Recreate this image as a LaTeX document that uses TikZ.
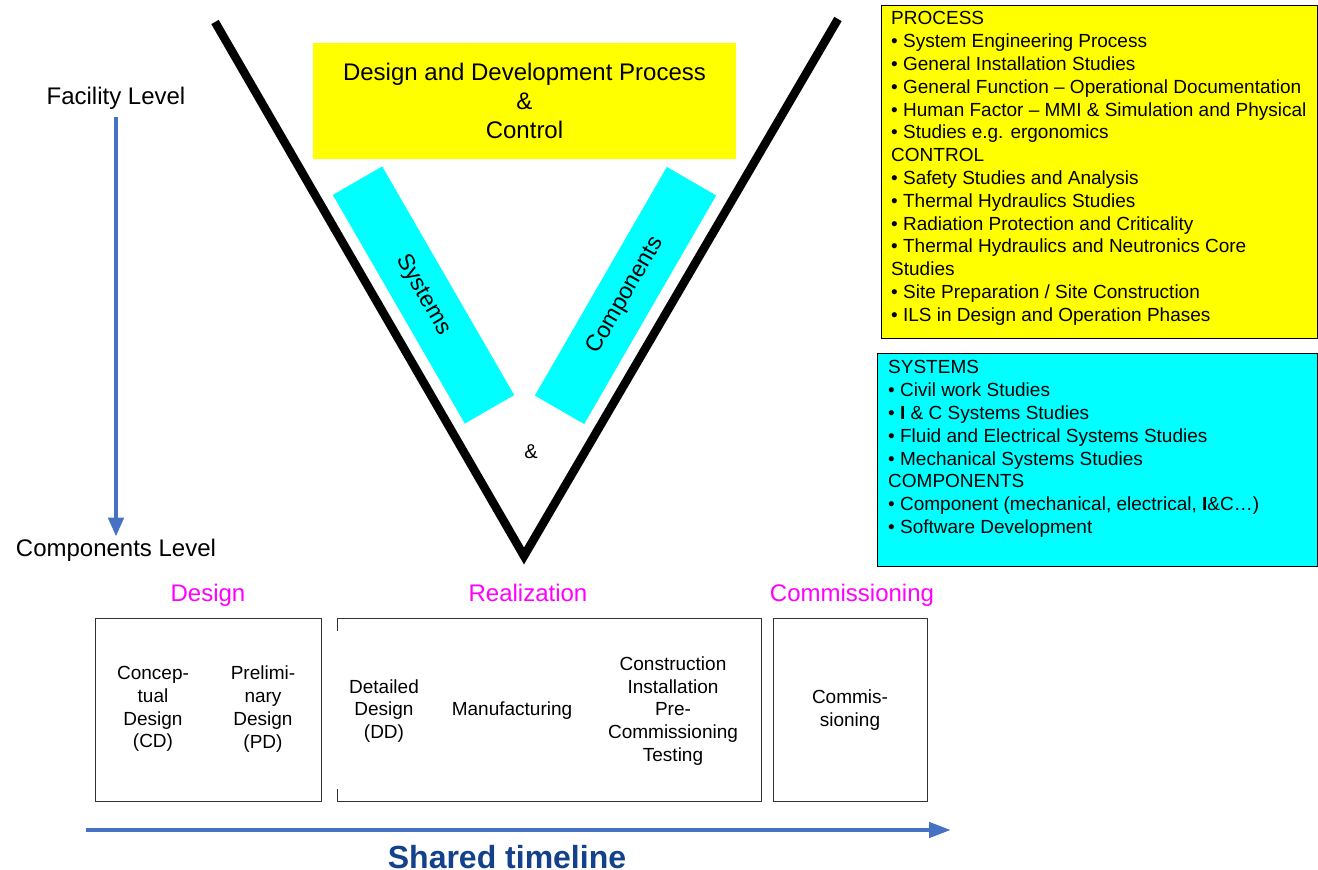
\documentclass[tikz,border=0pt]{standalone}
\usepackage{fontspec}
\setmainfont{Liberation Sans}
\usetikzlibrary{arrows.meta}
\definecolor{lineblue}{RGB}{70,114,196}
\definecolor{titleblue}{RGB}{20,65,140}
\definecolor{vyellow}{RGB}{255,255,0}
\definecolor{vcyan}{RGB}{0,255,255}
\definecolor{vmagenta}{RGB}{255,0,255}
\begin{document}
\begin{tikzpicture}[x=1pt,y=-1pt,
    txt/.style={font=\fontsize{19}{22.8}\selectfont, inner sep=0pt},
    big/.style={font=\fontsize{24}{29}\selectfont, inner sep=2pt},
    phase/.style={big, text=vmagenta, anchor=base},
    box/.style={draw=black!80, line width=0.8pt, minimum height=183pt, inner sep=0pt},
    band/.style={fill=vcyan, minimum width=264pt, minimum height=57pt, font=\fontsize{23}{27}\selectfont},
    blue arrow/.style={draw=lineblue, line width=4.5pt}]
  \useasboundingbox (0,0) rectangle (1318,870);

  % the V
  \draw[line width=8.5pt] (215,22) -- (524,556) -- (838,19);

  \node[big, fill=vyellow, minimum width=423pt, minimum height=116pt, align=center] (ddp) at (524.5,101) {Design and Development Process\\\&\\Control};
  \node[band, rotate=-60] (systems) at (423.5,295) {Systems};
  \node[band, rotate=60] (components) at (625.5,295.5) {Components};
  \node[font=\fontsize{20}{24}\selectfont] (amp) at (531,452) {\&};

  % levels
  \node[big] (facility) at (116,98) {Facility Level};
  \node[big] (complevel) at (116,550) {Components Level};
  \draw[blue arrow, shorten <=6pt, -{Triangle[length=19pt,width=15pt]}] (facility.south) -- (complevel.north);

  % right hand boxes
  \draw[line width=0.8pt, fill=vyellow] (881,5) rectangle (1317,338);
  \node[txt, anchor=north west, align=left] (process) at (891,11.5) {PROCESS\\
    • System Engineering Process\\
    • General Installation Studies\\
    • General Function – Operational Documentation\\
    • Human Factor – MMI \& Simulation and Physical\\
    • Studies e.g. ergonomics\\
    CONTROL\\
    • Safety Studies and Analysis\\
    • Thermal Hydraulics Studies\\
    • Radiation Protection and Criticality\\
    • Thermal Hydraulics and Neutronics Core\\
    Studies\\
    • Site Preparation / Site Construction\\
    • ILS in Design and Operation Phases};

  \draw[line width=0.8pt, fill=vcyan] (877,353) rectangle (1317,566);
  \node[txt, anchor=north west, align=left] (sys) at (888,360.5) {SYSTEMS\\
    • Civil work Studies\\
    • \textbf{I} \& C Systems Studies\\
    • Fluid and Electrical Systems Studies\\
    • Mechanical Systems Studies\\
    COMPONENTS\\
    • Component (mechanical, electrical, \textbf{I}\&C…)\\
    • Software Development};

  % phases
  \node[phase] (design) at (208,601) {Design};
  \node[phase] (realization) at (528,601) {Realization};
  \node[phase] (commissioning) at (852,601) {Commissioning};

  \node[box, minimum width=226pt, anchor=north west] (designbox) at (95,618) {};
  \node[box, draw=none, minimum width=424pt, anchor=north west] (realbox) at (337,618) {};
  \draw[draw=black!80, line width=0.8pt] ([yshift=-13pt]realbox.north west) -- (realbox.north west) -- (realbox.north east)
    -- (realbox.south east) -- (realbox.south west) -- ([yshift=13pt]realbox.south west);
  \node[box, minimum width=154pt, anchor=north west] (commbox) at (773,618) {};

  \node[txt, align=center] (cd) at (153,709) {Concep-\\tual\\Design\\(CD)};
  \node[txt, align=center] (pd) at (263,709) {Prelimi-\\nary\\Design\\(PD)};
  \node[txt, align=center] (dd) at (384,711) {Detailed\\Design\\(DD)};
  \node[txt] (manuf) at (512,711) {Manufacturing};
  \node[txt, align=center] (constr) at (673,711) {Construction\\Installation\\Pre-\\Commissioning\\Testing};
  \node[txt, align=center] (comm) at (850,710) {Commis-\\sioning};

  % timeline
  \coordinate (tstart) at (86,830);
  \coordinate (tend) at (951,830);
  \draw[blue arrow, -{Triangle[length=22pt,width=15pt]}] (tstart) -- (tend);
  \node[font=\fontsize{32}{38}\selectfont\bfseries, text=titleblue] (timeline) at (507,857) {Shared timeline};
\end{tikzpicture}
\end{document}
